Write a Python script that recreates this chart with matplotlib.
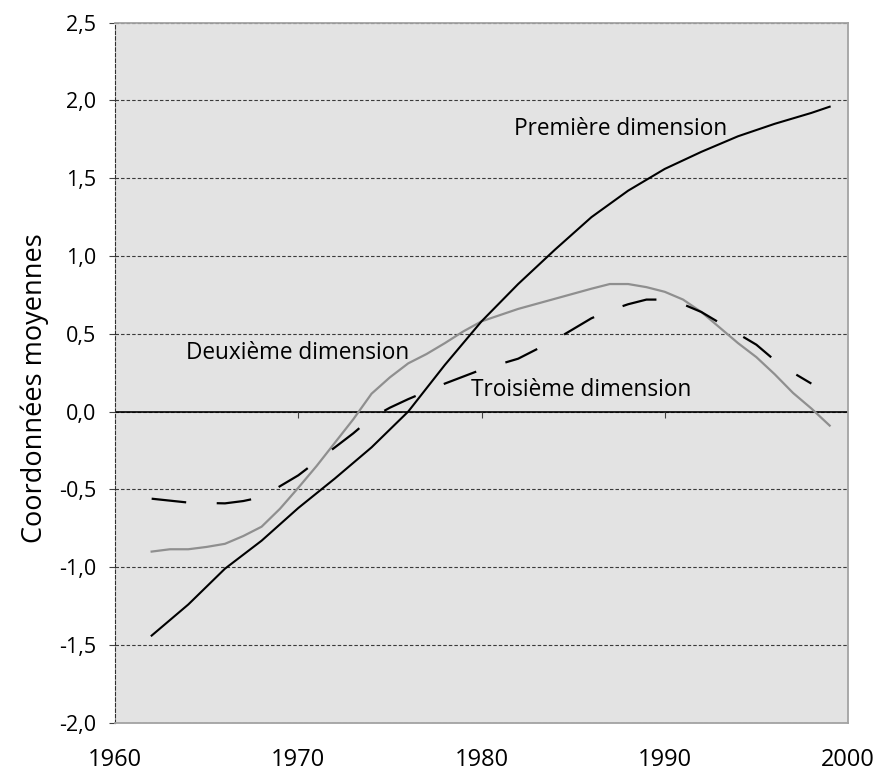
import matplotlib
matplotlib.use("Agg")
import matplotlib.pyplot as plt
from matplotlib.ticker import FuncFormatter

plt.rcParams['font.family'] = ['Open Sans', 'DejaVu Sans']
plt.rcParams['lines.scale_dashes'] = False

# Première dimension
years_1 = [1962, 1964, 1966, 1968, 1970, 1972, 1974, 1976, 1978, 1980,
           1982, 1984, 1986, 1988, 1990, 1992, 1994, 1996, 1998, 1999]
dim_1 = [-1.44, -1.24, -1.01, -0.83, -0.62, -0.43, -0.23, 0.00, 0.30, 0.58,
         0.82, 1.04, 1.25, 1.42, 1.56, 1.67, 1.77, 1.85, 1.92, 1.96]

# Deuxième dimension
years_2 = [1962, 1963, 1964, 1965, 1966, 1967, 1968, 1969, 1970, 1971,
           1972, 1973, 1974, 1975, 1976, 1977, 1978, 1979, 1980, 1982,
           1984, 1986, 1987, 1988, 1989, 1990, 1991, 1992, 1993, 1994,
           1995, 1996, 1997, 1998, 1999]
dim_2 = [-0.90, -0.885, -0.885, -0.87, -0.85, -0.80, -0.74, -0.625, -0.49, -0.35,
         -0.20, -0.05, 0.115, 0.22, 0.31, 0.37, 0.44, 0.515, 0.58, 0.66,
         0.725, 0.79, 0.82, 0.82, 0.80, 0.77, 0.72, 0.64, 0.54, 0.44,
         0.35, 0.24, 0.12, 0.02, -0.09]

# Troisième dimension
years_3 = [1962, 1964, 1966, 1967, 1968, 1969, 1970, 1971, 1972, 1973,
           1974, 1975, 1976, 1977, 1978, 1980, 1982, 1984, 1985, 1986,
           1987, 1988, 1989, 1990, 1991, 1992, 1993, 1994, 1995, 1996,
           1997, 1998]
dim_3 = [-0.56, -0.585, -0.59, -0.575, -0.55, -0.48, -0.41, -0.32, -0.23, -0.14,
         -0.04, 0.025, 0.08, 0.13, 0.18, 0.27, 0.34, 0.46, 0.53, 0.60,
         0.65, 0.69, 0.72, 0.72, 0.69, 0.64, 0.57, 0.50, 0.43, 0.33,
         0.25, 0.18]

x_ticks = [1960, 1970, 1980, 1990, 2000]
y_ticks = [-2.0, -1.5, -1.0, -0.5, 0.0, 0.5, 1.0, 1.5, 2.0, 2.5]

labels = {
    "Première dimension": (1981.8, 1.815),
    "Deuxième dimension": (1963.9, 0.375),
    "Troisième dimension": (1979.45, 0.14),
}

fig = plt.figure(figsize=(8.78, 7.71), dpi=100)
ax = fig.add_axes([115 / 878, 1 - 722.7 / 771, 733 / 878, 700 / 771])
ax.set_facecolor('#e3e3e3')

ax.set_xlim(1960, 2000)
ax.set_ylim(-2.0, 2.5)

# horizontal dashed grid
ax.set_yticks(y_ticks)
ax.yaxis.grid(True, color='#3a3a3a', linewidth=0.8, linestyle=(0, (2.5, 1.5)))
ax.set_axisbelow(True)

# zero line with its small year ticks
ax.axhline(0, color='black', linewidth=1.2, zorder=2)
ax.plot(x_ticks[1:-1], [0] * (len(x_ticks) - 2), linestyle='none',
        marker=3, markersize=4, markeredgewidth=0.8, color='#404040', zorder=2)

ax.plot(years_2, dim_2, color='#8f8f8f', linewidth=1.6, zorder=3)
ax.plot(years_3, dim_3, color='black', linewidth=1.6, zorder=3,
        linestyle=(0, (25, 22)))
ax.plot(years_1, dim_1, color='black', linewidth=1.5, zorder=4)

for txt, (x, y) in labels.items():
    ax.text(x, y, txt, fontsize=16.3, ha='left', va='center', color='black', zorder=5)

# spines
for side in ('top', 'right', 'bottom'):
    ax.spines[side].set_color('#a3a3a3')
    ax.spines[side].set_linewidth(1.3)
ax.spines['left'].set_color('#303030')
ax.spines['left'].set_linewidth(0.8)
ax.spines['left'].set_linestyle((0, (2.5, 1.5)))

ax.set_xticks(x_ticks)
ax.tick_params(axis='x', length=0, pad=18, labelsize=17)
ax.tick_params(axis='y', length=4.5, width=0.8, color='#404040', pad=9, labelsize=15.5)
ax.yaxis.set_major_formatter(FuncFormatter(lambda v, p: f"{v:.1f}".replace('.', ',')))

fig.text(35 / 878, 1 - 388 / 771, "Coordonnées moyennes", rotation=90,
         ha='center', va='center', fontsize=19.5)

fig.savefig("out.png", dpi=100)
